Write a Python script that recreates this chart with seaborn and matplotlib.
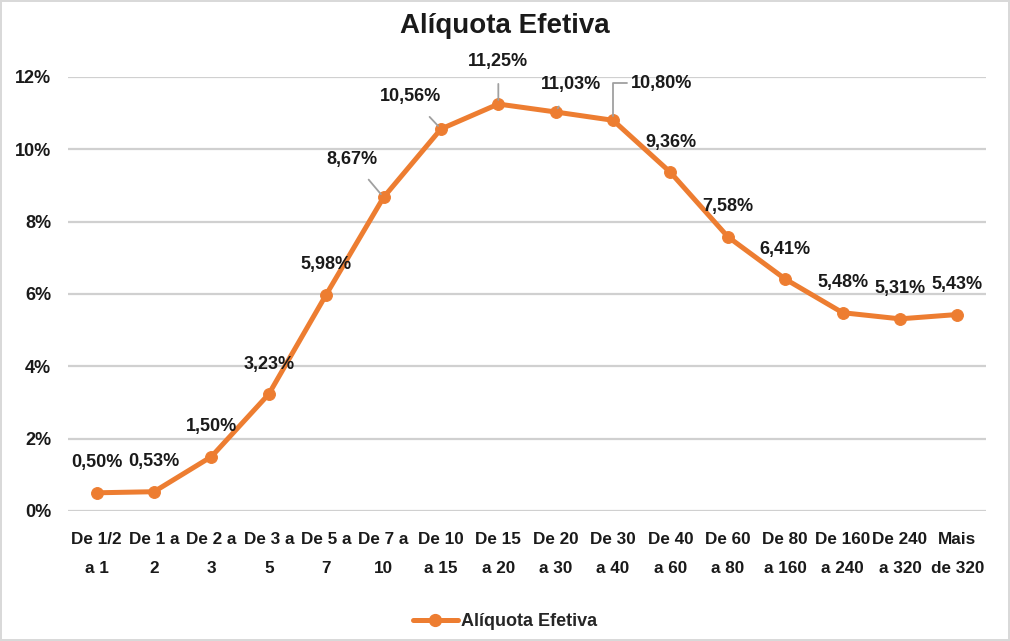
import matplotlib
matplotlib.use("Agg")
import matplotlib.pyplot as plt
import seaborn as sns
import pandas as pd
from matplotlib.ticker import FuncFormatter
from matplotlib.lines import Line2D

categories = ["De 1/2\na 1", "De 1 a\n2", "De 2 a\n3", "De 3 a\n5", "De 5 a\n7", "De 7 a\n10",
              "De 10\na 15", "De 15\na 20", "De 20\na 30", "De 30\na 40", "De 40\na 60",
              "De 60\na 80", "De 80\na 160", "De 160\na 240", "De 240\na 320", "Mais\nde 320"]
values = [0.50, 0.53, 1.50, 3.23, 5.98, 8.67, 10.56, 11.25, 11.03, 10.80, 9.36, 7.58, 6.41, 5.48, 5.31, 5.43]
series_name = "Alíquota Efetiva"
title = "Alíquota Efetiva"

sns.set_theme(style="white")
plt.rcParams['font.family'] = ['Liberation Sans', 'DejaVu Sans']

ORANGE = "#ED7D31"
TXT = "#1a1a1a"
df = pd.DataFrame({"cat": categories, "val": values, "x": range(len(categories))})

fig = plt.figure(figsize=(10.1, 6.41), dpi=100)
ax = fig.add_axes([0.0673, 0.203, 0.909, 0.677])

sns.lineplot(data=df, x="x", y="val", ax=ax, color=ORANGE, linewidth=3.6,
             marker="o", markersize=8.5, markeredgecolor=ORANGE, sort=False, zorder=3)

ax.set_xlim(-0.5, len(categories) - 0.5)
ax.set_ylim(0, 12)
ax.set_yticks([0, 2, 4, 6, 8, 10, 12])
ax.yaxis.set_major_formatter(FuncFormatter(lambda v, p: f"{int(v)}%"))
ax.set_xticks(range(len(categories)))
ax.set_xticklabels(categories, linespacing=2.15)
ax.tick_params(axis="y", length=0, labelsize=13, pad=12)
ax.tick_params(axis="x", length=0, labelsize=12.3, pad=15)
for lab in ax.get_xticklabels() + ax.get_yticklabels():
    lab.set_fontweight("bold")
    lab.set_color(TXT)
ax.grid(axis="y", color="#d0d0d0", linewidth=1.6)
ax.set_axisbelow(True)
for s in ax.spines.values():
    s.set_visible(False)
ax.set_xlabel("")
ax.set_ylabel("")

offsets = {5: (-32, 38), 6: (-30, 32), 7: (0, 43), 8: (15, 27), 9: (48, 37)}
for i, v in enumerate(values):
    label = f"{v:.2f}%".replace(".", ",")
    dx, dy = offsets.get(i, (0, 30))
    kw = dict(xy=(i, v), xytext=(dx, dy), textcoords="offset pixels",
              ha="center", va="center", fontsize=13, fontweight="bold", color=TXT)
    if i in offsets:
        conn = "angle,angleA=0,angleB=90,rad=0" if i == 9 else "arc3"
        kw["arrowprops"] = dict(arrowstyle="-", color="#a0a0a0", lw=1.3, shrinkA=8 if i != 9 else 34,
                                shrinkB=3, connectionstyle=conn)
    ax.annotate(label, **kw)

fig.suptitle(title, y=0.98, fontsize=20, fontweight="bold", color=TXT)

handle = Line2D([0], [0], color=ORANGE, linewidth=3.6, marker="o", markersize=8.5)
fig.legend([handle], [series_name], loc="center", bbox_to_anchor=(0.5, 0.03),
           frameon=False, prop={"size": 13, "weight": "bold"}, handlelength=2.5,
           handletextpad=0.2)

fig.patch.set_edgecolor("#d9d9d9")
fig.patch.set_linewidth(1.5)
fig.savefig("out.png", dpi=100, edgecolor=fig.get_edgecolor())
